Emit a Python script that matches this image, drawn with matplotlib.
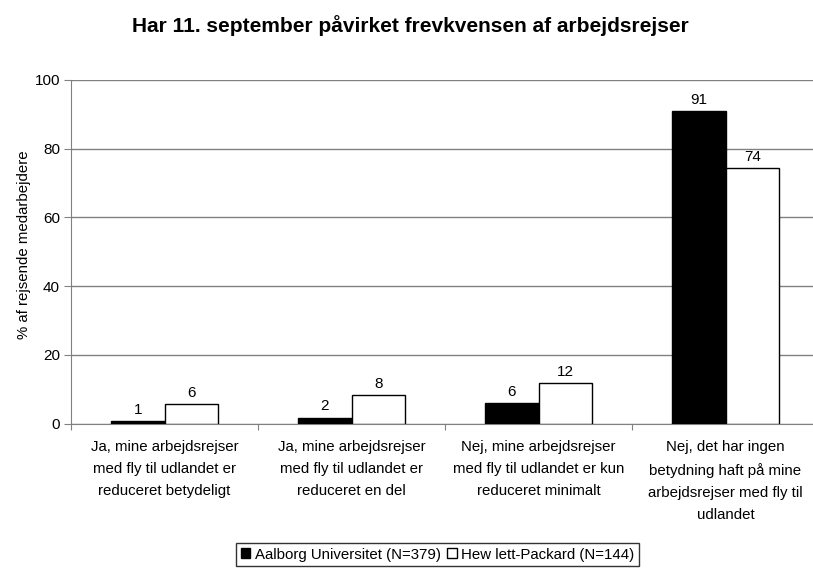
import matplotlib
matplotlib.use("Agg")
import matplotlib.pyplot as plt
from matplotlib.patches import Patch
import numpy as np

plt.rcParams['font.family'] = ['Liberation Sans', 'DejaVu Sans']

title = "Har 11. september påvirket frevkvensen af arbejdsrejser"
categories = [
    "Ja, mine arbejdsrejser\nmed fly til udlandet er\nreduceret betydeligt",
    "Ja, mine arbejdsrejser\nmed fly til udlandet er\nreduceret en del",
    "Nej, mine arbejdsrejser\nmed fly til udlandet er kun\nreduceret minimalt",
    "Nej, det har ingen\nbetydning haft på mine\narbejdsrejser med fly til\nudlandet",
]
series_names = ["Aalborg Universitet (N=379)", "Hew lett-Packard (N=144)"]
aau = [0.6, 1.7, 5.9, 91.0]
hp = [5.6, 8.3, 11.7, 74.4]
y_ticks = [0, 20, 40, 60, 80, 100]
y_label = "% af rejsende medarbejdere"

fig = plt.figure(figsize=(8.13, 5.68), dpi=100)
ax = fig.add_axes([71 / 813, 144.5 / 568, 748 / 813, 343.5 / 568])

x = np.arange(len(categories))
w = 0.286
b1 = ax.bar(x - w / 2, aau, w, color="black", edgecolor="black", linewidth=1, zorder=3)
b2 = ax.bar(x + w / 2, hp, w, color="white", edgecolor="black", linewidth=1, zorder=3)
ax.bar_label(b1, fmt="%.0f", padding=3, fontsize=11)
ax.bar_label(b2, fmt="%.0f", padding=3, fontsize=11)

ax.set_xlim(-0.5, len(categories) - 0.5)
ax.set_ylim(0, 100)
ax.set_yticks(y_ticks)
ax.tick_params(axis="y", labelsize=11, length=5, color="#808080", pad=3)
ax.yaxis.grid(True, color="#808080", linewidth=1, zorder=0)
ax.set_axisbelow(True)

# major ticks on category boundaries, labels on minor ticks at centers
ax.set_xticks(np.arange(-0.5, len(categories), 1.0))
ax.set_xticklabels([])
ax.tick_params(axis="x", which="major", length=4, color="#808080")
ax.set_xticks(x, minor=True)
ax.set_xticklabels(categories, minor=True, fontsize=10.8, linespacing=1.72)
ax.tick_params(axis="x", which="minor", length=0, pad=12)

for s in ["top", "right"]:
    ax.spines[s].set_visible(False)
for s in ["left", "bottom"]:
    ax.spines[s].set_color("#808080")

fig.text(410 / 813, 1 - 26 / 568, title, ha="center", va="center",
         fontsize=15, fontweight="bold")
fig.text(24 / 813, 1 - 245 / 568, y_label, rotation=90, ha="center",
         va="center", fontsize=10.8)

handles = [Patch(facecolor="black", edgecolor="black"),
           Patch(facecolor="white", edgecolor="black")]
fig.legend(handles, series_names, loc="upper left",
           bbox_to_anchor=(236 / 813, 25 / 568), ncol=2, frameon=True,
           fancybox=False, edgecolor="black", fontsize=10.8,
           handlelength=0.65, handleheight=0.65, handletextpad=0.3,
           columnspacing=0.4, borderpad=0.3, borderaxespad=0)

fig.savefig("out.png", dpi=100)
